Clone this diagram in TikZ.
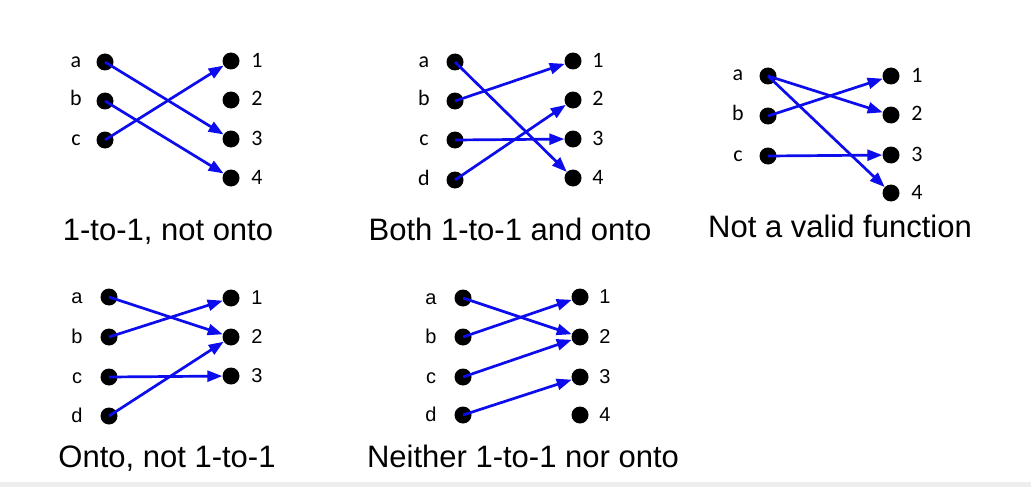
\documentclass[tikz,border=0pt]{standalone}
\usepackage{fontspec}
\setmainfont{Liberation Sans}
\newfontfamily\calfont{Carlito}
\usetikzlibrary{arrows.meta}
\definecolor{mapBlue}{RGB}{12,12,236}
\definecolor{stripGray}{RGB}{238,238,238}
\tikzset{
  ptdot/.style={circle, fill=black, inner sep=0pt, minimum size=17pt},
  maparrow/.style={draw=mapBlue, line width=2.7pt, -{Triangle[length=15pt,width=11pt]}},
  lblcal/.style={anchor=base, inner sep=0pt, font=\calfont\fontsize{22}{26}\selectfont},
  lblsans/.style={anchor=base, inner sep=0pt, font=\fontsize{20}{24}\selectfont},
  caption/.style={anchor=base, inner sep=0pt, font=\fontsize{31}{36}\selectfont}
}
\begin{document}
\begin{tikzpicture}
% one unit is one pixel of the 1031x487 frame, y runs down
\def\unitpx{1pt}
\begin{scope}[x=\unitpx, y=-\unitpx]
  % Frame and grey strip at the foot
  \useasboundingbox (0,0) rectangle (1031,487);
  \fill[white] (0,0) rectangle (1031,487);
  \fill[stripGray] (0,482) rectangle (1031,487);
  % Panel 1: 1-to-1, not onto
  \node[ptdot] (L1a) at (105,62) {};
  \node[ptdot] (L1b) at (105,101) {};
  \node[ptdot] (L1c) at (105,140) {};
  \node[ptdot] (R1n1) at (231,61) {};
  \node[ptdot] (R1n2) at (231,100) {};
  \node[ptdot] (R1n3) at (231,139) {};
  \node[ptdot] (R1n4) at (231,178) {};
  \node[lblcal] (tL1a) at (76,67) {a};
  \node[lblcal] (tL1b) at (76,106) {b};
  \node[lblcal] (tL1c) at (76,145) {c};
  \node[lblcal] (tR1n1) at (257,67) {1};
  \node[lblcal] (tR1n2) at (257,106) {2};
  \node[lblcal] (tR1n3) at (257,145) {3};
  \node[lblcal] (tR1n4) at (257,184) {4};
  \draw[maparrow] (L1a.center) -- (R1n3);
  \draw[maparrow] (L1b.center) -- (R1n4);
  \draw[maparrow] (L1c.center) -- (R1n1);
  \node[caption] (cap1) at (168,240) {1-to-1, not onto};
  % Panel 2: both 1-to-1 and onto
  \node[ptdot] (L2a) at (455,62) {};
  \node[ptdot] (L2b) at (455,101) {};
  \node[ptdot] (L2c) at (455,140) {};
  \node[ptdot] (L2d) at (455,180) {};
  \node[ptdot] (R2n1) at (573,61) {};
  \node[ptdot] (R2n2) at (573,100) {};
  \node[ptdot] (R2n3) at (573,139) {};
  \node[ptdot] (R2n4) at (573,178) {};
  \node[lblcal] (tL2a) at (424,67) {a};
  \node[lblcal] (tL2b) at (424,106) {b};
  \node[lblcal] (tL2c) at (424,145) {c};
  \node[lblcal] (tL2d) at (424,185) {d};
  \node[lblcal] (tR2n1) at (598,67) {1};
  \node[lblcal] (tR2n2) at (598,106) {2};
  \node[lblcal] (tR2n3) at (598,145) {3};
  \node[lblcal] (tR2n4) at (598,184) {4};
  \draw[maparrow] (L2a.center) -- (R2n4);
  \draw[maparrow] (L2b.center) -- (R2n1);
  \draw[maparrow] (L2c.center) -- (R2n3);
  \draw[maparrow] (L2d.center) -- (R2n2);
  \node[caption] (cap2) at (510,240) {Both 1-to-1 and onto};
  % Panel 3: not a valid function
  \node[ptdot] (L3a) at (768,76) {};
  \node[ptdot] (L3b) at (768,116) {};
  \node[ptdot] (L3c) at (768,156) {};
  \node[ptdot] (R3n1) at (891,76) {};
  \node[ptdot] (R3n2) at (891,115) {};
  \node[ptdot] (R3n3) at (891,155) {};
  \node[ptdot] (R3n4) at (891,193) {};
  \node[lblcal] (tL3a) at (738,81) {a};
  \node[lblcal] (tL3b) at (738,121) {b};
  \node[lblcal] (tL3c) at (738,161) {c};
  \node[lblcal] (tR3n1) at (917,82) {1};
  \node[lblcal] (tR3n2) at (917,121) {2};
  \node[lblcal] (tR3n3) at (917,161) {3};
  \node[lblcal] (tR3n4) at (917,199) {4};
  \draw[maparrow] (L3a.center) -- (R3n2);
  \draw[maparrow] (L3a.center) -- (R3n4);
  \draw[maparrow] (L3b.center) -- (R3n1);
  \draw[maparrow] (L3c.center) -- (R3n3);
  \node[caption] (cap3) at (840,237) {Not a valid function};
  % Panel 4: onto, not 1-to-1
  \node[ptdot] (L4a) at (109,297) {};
  \node[ptdot] (L4b) at (109,337) {};
  \node[ptdot] (L4c) at (109,377) {};
  \node[ptdot] (L4d) at (109,416) {};
  \node[ptdot] (R4n1) at (231,298) {};
  \node[ptdot] (R4n2) at (231,337) {};
  \node[ptdot] (R4n3) at (231,376) {};
  \node[lblsans] (tL4a) at (77,303) {a};
  \node[lblsans] (tL4b) at (77,343) {b};
  \node[lblsans] (tL4c) at (77,383) {c};
  \node[lblsans] (tL4d) at (77,422) {d};
  \node[lblsans] (tR4n1) at (257,304) {1};
  \node[lblsans] (tR4n2) at (257,343) {2};
  \node[lblsans] (tR4n3) at (257,382) {3};
  \draw[maparrow] (L4a.center) -- (R4n2);
  \draw[maparrow] (L4b.center) -- (R4n1);
  \draw[maparrow] (L4c.center) -- (R4n3);
  \draw[maparrow] (L4d.center) -- (R4n2);
  \node[caption] (cap4) at (167,467) {Onto, not 1-to-1};
  % Panel 5: neither 1-to-1 nor onto
  \node[ptdot] (L5a) at (463,298) {};
  \node[ptdot] (L5b) at (463,337) {};
  \node[ptdot] (L5c) at (463,377) {};
  \node[ptdot] (L5d) at (463,415) {};
  \node[ptdot] (R5n1) at (580,297) {};
  \node[ptdot] (R5n2) at (580,337) {};
  \node[ptdot] (R5n3) at (580,377) {};
  \node[ptdot] (R5n4) at (580,415) {};
  \node[lblsans] (tL5a) at (431,304) {a};
  \node[lblsans] (tL5b) at (431,343) {b};
  \node[lblsans] (tL5c) at (431,383) {c};
  \node[lblsans] (tL5d) at (431,421) {d};
  \node[lblsans] (tR5n1) at (605,303) {1};
  \node[lblsans] (tR5n2) at (605,343) {2};
  \node[lblsans] (tR5n3) at (605,383) {3};
  \node[lblsans] (tR5n4) at (605,421) {4};
  \draw[maparrow] (L5a.center) -- (R5n2);
  \draw[maparrow] (L5b.center) -- (R5n1);
  \draw[maparrow] (L5c.center) -- (R5n2);
  \draw[maparrow] (L5d.center) -- (R5n3);
  \node[caption] (cap5) at (523,467) {Neither 1-to-1 nor onto};
\end{scope}
\end{tikzpicture}
\end{document}
